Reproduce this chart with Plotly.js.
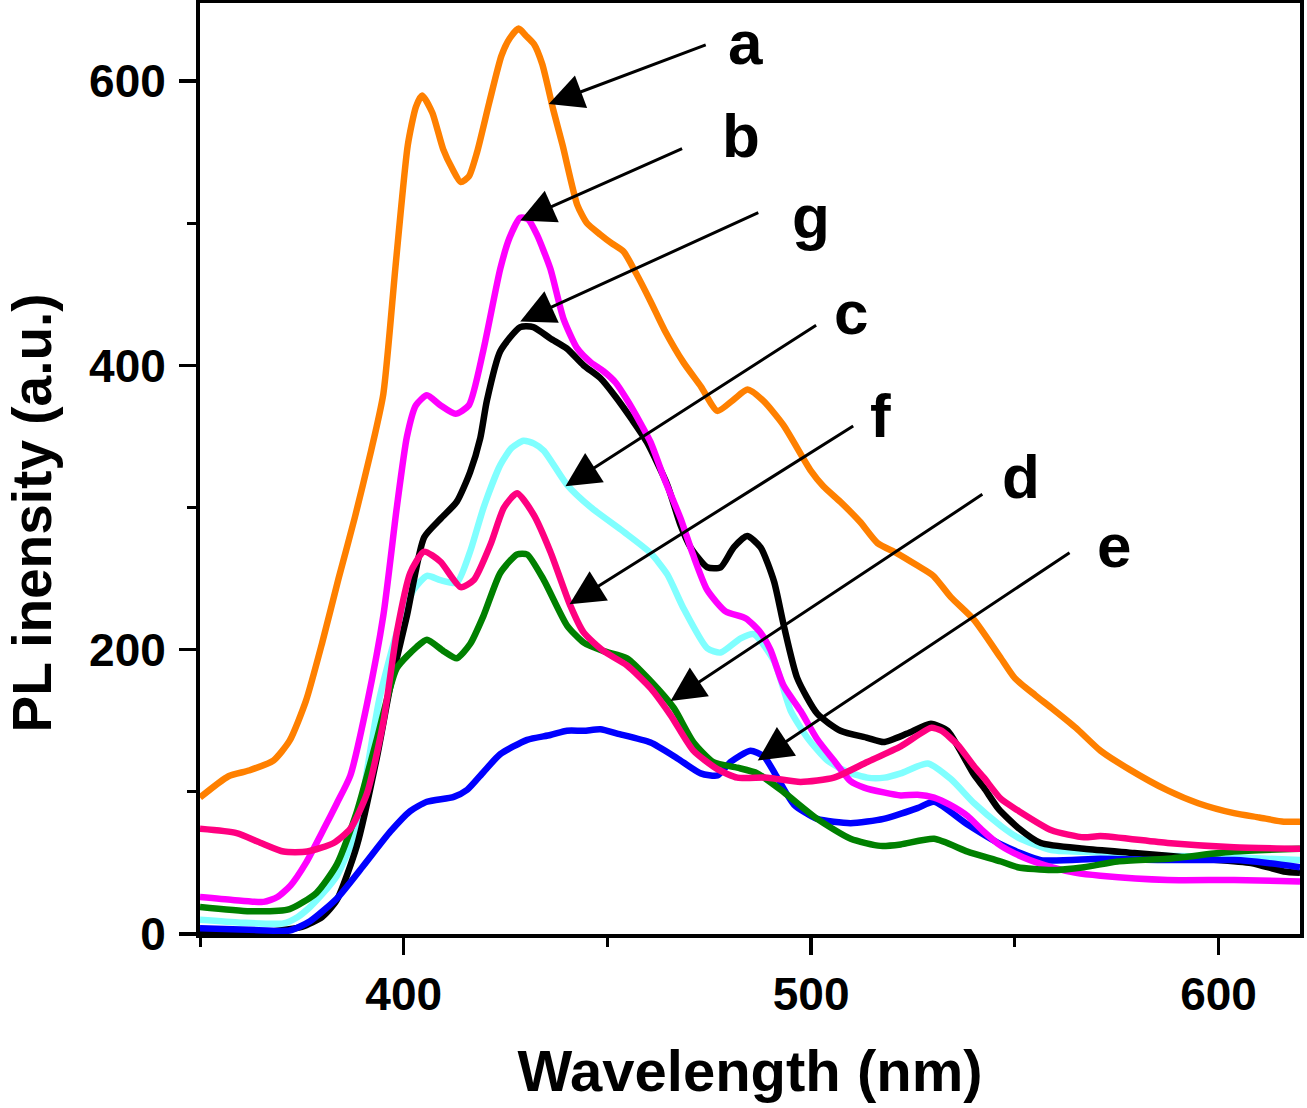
<!DOCTYPE html>
<html>
<head>
<meta charset="utf-8">
<script src="https://cdn.plot.ly/plotly-3.0.1.min.js"></script>
<style>html,body{margin:0;padding:0;background:#fff;}#chart{width:1307px;height:1108px;}</style>
</head>
<body>
<div id="chart"></div>
<script>
// ---- data ----
// a (orange)
const wlA = [350,357,362,368,372,376,380,384,388,392,395,398,401,403,404.5,407,409.7,412,414,416,418,421,424,426,428.2,430,432,434,436.7,439,442.6,445,448.3,451,454,457,460.6,464,468.7,473,477,481,484.4,488.3,493.2,499.9,503,507.2,512,516.3,521,526.2,530,534.3,540,546.6,550,555,559,565,571,578,587.5,595,603.8,610,616,620];
const intA = [96,111,115,122,136,164,205,250,293,340,380,470,555,582,590,578,552,538,529,533,550,585,618,630,637,632,626,612,580,555,513,500,492,486,480,465,445,425,402,385,368,376,383,375,358,326,315,304,290,275,268,259,252,237,221,194,180,168,159,145,129,116,101,92,85,82,79,79];
// b (magenta)
const wlB = [350,358,365.6,369,372.2,376,380.4,383.6,386.9,391,395,398.3,400.8,403,405.7,409,412.7,416,419.5,423.7,426,428.6,430.5,432.7,436,439.2,442.6,446,449,452,455,458,460.6,464,468,471,474.5,479,484,487.6,490,493.2,497.4,501.5,505.6,509.7,513,517.8,522,526.1,530.2,534,538.4,542,546.6,552,559,565,571,587.5,603.8,620];
const intB = [26,24,22.6,26,34,50,74,92,111.5,162,224,300,350,372,379,372,366,372,410,468,490,504,503,492,468,433,412,402,396,388,375,360,346,320,292,267,242,227,222,212,200,175,157,137,122,107.5,103,99.6,97.5,98,96,91,83,73,62,54,47,43,41,38,38,37];
// g (black)
const wlG = [350,365,375,380,383.6,388.5,393.4,396.7,400.8,405,409,413,416.3,418.8,420.4,423.7,428.6,431.8,436,440,444.2,448.3,452,456,459.7,464.7,467.9,470.4,474.5,477.8,481,484.3,487.6,490.9,493.3,496.6,501.5,507.2,513.8,517.8,523.6,529.4,533.5,536,540,542.4,546,550.7,556.4,567,579.3,595.7,608,616,620];
const intG = [1,1,5,12,24,62,124,174,224,279,292,304,325,349,375,410,427,427,419,412,400,391,378,362,346,316,288,272,258,258,272,280,272,248,217,180,155,143,138,135,141,148,143,132,112,103,88,75,64,60,57,53,50,44,43];
// c (cyan)
const wlC = [350,360,370.5,374,377,380,383.6,388.5,391,394,398.3,402.4,405.7,409,413,416.3,419.6,423.7,426.5,429.4,432,434.4,440.1,446,454,460.6,464.7,468.7,474.5,477.8,482.7,485.9,490.9,495,499.1,504,509,513.8,518,522,528.6,534.3,540,546.6,550.7,559,571,587.5,603.8,620];
const intC = [10,8,7.5,12,19,28,41,74,115,165,212,242,252,249,247,269,300,330,342,347,345,340,316,300,283,268,253,229,201,198,208,211,192,157,138,122,114,110,110,113,120,109,92,76,68,59,57.5,55,54,52];
// f (deep pink)
const wlF = [350,359,365,370.5,376.3,382.8,386.9,391,395,398.3,401.6,405,409,414,417.2,421.3,424.6,427.8,431.9,436,440.9,444.2,449.1,454.8,460.6,465.5,471.1,477,481.9,489.3,497.4,505.6,513.8,522,529.4,532,536,540,542.4,546.6,550.7,559,567,571,587.5,603.8,620];
const intF = [74,71,64,58,58,64,74,99,149,212,254,269,262,244,249,274,300,310,295,269,231,212,199,189,173,154,129,116,110,110,107,110,121,132,145,143,133,118,110,95,87,73,68,69,64,61,60];
// d (green)
const wlD = [350,362.3,372,378.6,383.6,388.5,393.4,398.3,403.2,405.7,409.8,413,416.3,419.6,423.7,427.8,430.3,434.4,440.1,444.2,449.1,454.8,460.6,466.3,471.1,476,481.9,486.8,493.2,501.5,509.7,517,522,530.2,538.4,546.6,550.7,559,567,575.2,587.5,603.8,620];
const intD = [19,16,17.5,29,49,86,137,187,202,207,199,194,204,224,254,267,267,249,217,205,199,194,178,159,135,121,117,113,100,81,67,62,63,67,58,51,47,45,47,51,53,58,60];
// e (blue)
const wlE = [350,362,372,377,383.6,390.1,396.7,401.6,405.7,412.3,415.6,419.6,423.7,430.3,436,440.1,444.2,448.3,452.4,460.6,467.1,472.9,477,480.2,485.1,488.4,491.7,495.8,501.5,509.7,517.8,526.1,530.2,538.4,546.6,556.4,571,587.5,603.8,612,620];
const intE = [4,3,2.5,9,25,48,72,86.5,93,96.5,101.5,114,126.5,136.6,140,143,143,144,141,134.7,123.7,113,111.5,121,129,125,110,91,81,78,81,88.6,93,77,63,52,53,52,52,50,47];

// annotation labels and arrows (data coordinates)
const labels   = ['a','b','g','c','f','d','e'];
const tipX     = [435.6,428.6,428.6,439.7,440.7,465.5,486.9];
const tipY     = [584,502,431,315,232,164,122];
const tailX    = [474.5,468.7,487.4,501.6,510.7,542.4,563.8];
const tailY    = [626,553,508,429,358,310,269];
const labelX   = [483.9,482.7,499.9,509.7,517.1,551.5,574.3];
const labelY   = [627,562,505,437,365,322,273];

const xTickVals = [400,500,600];
const yTickVals = [0,200,400,600];
const xTitle = 'Wavelength (nm)';
const yTitle = 'PL inensity (a.u.)';

// ---- build ----
const series = [
  {x: wlA, y: intA, color: '#FF8000', name: 'a'},
  {x: wlC, y: intC, color: '#80FFFF', name: 'c'},
  {x: wlG, y: intG, color: '#000000', name: 'g'},
  {x: wlE, y: intE, color: '#0000FF', name: 'e'},
  {x: wlB, y: intB, color: '#FF00FF', name: 'b'},
  {x: wlD, y: intD, color: '#008000', name: 'd'},
  {x: wlF, y: intF, color: '#FF0080', name: 'f'}
];
const traces = series.map(s => ({
  type: 'scatter', mode: 'lines', x: s.x, y: s.y, name: s.name,
  line: {color: s.color, width: 6.5, shape: 'spline', smoothing: 0.6},
  showlegend: false, hoverinfo: 'skip'
}));

const FONT = 'Liberation Sans, Arial, Helvetica, sans-serif';
const annotations = [];
labels.forEach((t, i) => {
  annotations.push({
    x: tipX[i], y: tipY[i], xref: 'x', yref: 'y',
    ax: tailX[i], ay: tailY[i], axref: 'x', ayref: 'y',
    text: '', showarrow: true, arrowhead: 2, arrowsize: 2.3, arrowwidth: 3,
    arrowcolor: '#000', standoff: 0, startstandoff: 0, font: {size: 1}
  });
  annotations.push({
    x: labelX[i], y: labelY[i], xref: 'x', yref: 'y', text: t, showarrow: false,
    xanchor: 'center', yanchor: 'middle',
    font: {family: FONT, size: 62, weight: 'bold', color: '#000'}
  });
});
// y-axis title (placed as rotated text, as in the reference it sits below the axis centre)
annotations.push({
  xref: 'paper', yref: 'paper', x: -0.1525, y: 0.452, xanchor: 'center', yanchor: 'middle',
  text: yTitle, textangle: -90, showarrow: false,
  font: {family: FONT, size: 55, weight: 'bold', color: '#000'}
});

const layout = {
  width: 1307, height: 1108,
  margin: {l: 200, r: 7, t: 3, b: 174},
  paper_bgcolor: '#fff', plot_bgcolor: '#fff',
  showlegend: false,
  xaxis: {
    range: [350, 620], tickvals: xTickVals, ticktext: xTickVals.map(String),
    showline: true, linewidth: 4, linecolor: '#000', mirror: true,
    ticks: 'outside', ticklen: 17, tickwidth: 3.5, tickcolor: '#000',
    minor: {dtick: 50, tick0: 350, ticks: 'outside', ticklen: 9, tickwidth: 3, tickcolor: '#000', showgrid: false},
    showgrid: false, zeroline: false,
    tickfont: {family: FONT, size: 46, weight: 'bold', color: '#000'},
    ticklabelstandoff: 0,
    title: {text: xTitle, font: {family: FONT, size: 58, weight: 'bold', color: '#000'}, standoff: 32}
  },
  yaxis: {
    range: [0, 655], tickvals: yTickVals, ticktext: yTickVals.map(String),
    showline: true, linewidth: 4, linecolor: '#000', mirror: true,
    ticks: 'outside', ticklen: 17, tickwidth: 3.5, tickcolor: '#000',
    minor: {dtick: 100, tick0: 0, ticks: 'outside', ticklen: 9, tickwidth: 3, tickcolor: '#000', showgrid: false},
    showgrid: false, zeroline: false,
    tickfont: {family: FONT, size: 46, weight: 'bold', color: '#000'},
    ticklabelstandoff: 4
  },
  annotations: annotations
};

Plotly.newPlot('chart', traces, layout, {displayModeBar: false, staticPlot: true});
</script>
</body>
</html>
